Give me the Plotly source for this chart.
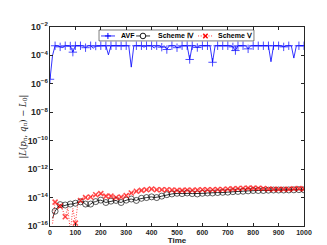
import plotly.graph_objects as go

time = list(range(0, 1001, 10))

avf = [2.1e-6, 1.0e-4, 4.8e-4, 4.8e-4, 4.0e-4, 3.6e-4, 4.8e-4, 4.8e-4, 4.6e-4, 1.7e-4,
       4.8e-4, 4.8e-4, 4.8e-4, 4.7e-4, 3.5e-4, 4.8e-4, 4.8e-4, 3.2e-4, 4.6e-4, 4.8e-4,
       4.8e-4, 4.8e-4, 4.8e-4, 1.1e-4, 4.8e-4, 4.8e-4, 4.8e-4, 4.8e-4, 4.7e-4, 4.8e-4,
       4.8e-4, 4.8e-4, 1.5e-5, 4.8e-4, 4.8e-4, 4.8e-4, 4.8e-4, 3.8e-4, 4.8e-4, 4.8e-4,
       4.8e-4, 3.3e-4, 4.8e-4, 4.8e-4, 3.8e-4, 4.8e-4, 2.6e-4, 4.8e-4, 4.8e-4, 4.8e-4,
       3.5e-4, 4.2e-4, 4.8e-4, 4.8e-4, 4.8e-4, 5.2e-5, 4.8e-4, 4.8e-4, 3.6e-4, 4.8e-4,
       4.8e-4, 4.8e-4, 4.8e-4, 4.8e-4, 3.3e-5, 4.8e-4, 4.8e-4, 4.8e-4, 4.8e-4, 4.8e-4,
       4.8e-4, 4.8e-4, 4.0e-4, 2.2e-4, 4.8e-4, 4.8e-4, 4.8e-4, 4.8e-4, 2.9e-4, 4.8e-4,
       4.8e-4, 4.8e-4, 4.8e-4, 4.8e-4, 4.8e-4, 4.8e-4, 4.8e-4, 3.6e-5, 4.8e-4, 4.8e-4,
       4.8e-4, 4.8e-4, 4.0e-4, 4.8e-4, 4.8e-4, 4.8e-4, 6.5e-5, 4.8e-4, 4.8e-4, 4.8e-4,
       4.8e-4]

scheme4 = [None, 3.5e-16, 1.1e-15, 2.0e-15, 3.2e-15, 2.5e-15, 3.0e-15, 3.2e-15, 3.5e-15, 3.5e-15,
           4.0e-15, 4.5e-15, 5.0e-15, 5.0e-15, 3.5e-15, 2.4e-15, 3.5e-15, 4.7e-15, 5.2e-15, 6.3e-15,
           6.6e-15, 5.2e-15, 4.5e-15, 5.0e-15, 5.6e-15, 5.6e-15, 6.3e-15, 5.0e-15, 4.5e-15, 5.6e-15,
           6.6e-15, 7.4e-15, 7.9e-15, 7.1e-15, 6.3e-15, 7.9e-15, 8.9e-15, 1.0e-14, 1.0e-14, 1.07e-14,
           1.12e-14, 1.0e-14, 1.0e-14, 1.12e-14, 1.26e-14, 1.4e-14, 1.6e-14, 1.7e-14, 1.8e-14, 1.9e-14,
           2.0e-14, 2.0e-14, 1.9e-14, 2.0e-14, 2.1e-14, 2.0e-14, 1.9e-14, 1.9e-14, 1.8e-14, 1.9e-14,
           2.0e-14, 2.0e-14, 2.1e-14, 2.2e-14, 2.1e-14, 2.2e-14, 2.25e-14, 2.2e-14, 2.35e-14, 2.3e-14,
           2.4e-14, 2.5e-14, 2.6e-14, 2.5e-14, 2.7e-14, 2.8e-14, 2.8e-14, 2.9e-14, 2.95e-14, 3.0e-14,
           3.15e-14, 3.15e-14, 3.15e-14, 3.2e-14, 3.15e-14, 3.3e-14, 3.3e-14, 3.2e-14, 3.4e-14, 3.3e-14,
           3.4e-14, 3.3e-14, 3.4e-14, 3.45e-14, 3.45e-14, 3.4e-14, 3.5e-14, 3.5e-14, 3.6e-14, 3.5e-14,
           3.5e-14]

scheme5 = [None, 1.5e-16, 4.8e-15, 3.2e-15, 2.5e-15, 1.3e-15, 4.5e-16, 2.0e-15, 4.0e-17, 1.7e-15,
           1.6e-16, 4.3e-15, 6.3e-15, 1.1e-14, 1.0e-14, 1.0e-14, 1.1e-14, 1.3e-14, 1.6e-14, 1.4e-14,
           1.9e-14, 1.6e-14, 1.26e-14, 1.4e-14, 1.26e-14, 1.1e-14, 1.0e-14, 1.0e-14, 1.1e-14, 1.26e-14,
           1.4e-14, 1.8e-14, 2.1e-14, 2.5e-14, 2.8e-14, 3.0e-14, 3.2e-14, 3.4e-14, 3.5e-14, 3.8e-14,
           4.0e-14, 3.5e-14, 3.6e-14, 3.4e-14, 3.6e-14, 3.3e-14, 3.5e-14, 3.3e-14, 3.4e-14, 3.2e-14,
           3.3e-14, 3.4e-14, 3.2e-14, 3.5e-14, 3.4e-14, 3.5e-14, 3.3e-14, 3.6e-14, 3.4e-14, 3.5e-14,
           3.6e-14, 3.8e-14, 3.5e-14, 3.7e-14, 3.6e-14, 3.8e-14, 3.7e-14, 3.9e-14, 3.7e-14, 3.8e-14,
           4.0e-14, 3.8e-14, 4.1e-14, 3.9e-14, 4.3e-14, 4.2e-14, 4.5e-14, 4.4e-14, 4.6e-14, 4.5e-14,
           4.6e-14, 4.3e-14, 4.5e-14, 4.2e-14, 4.4e-14, 4.1e-14, 4.0e-14, 4.2e-14, 3.9e-14, 4.0e-14,
           3.8e-14, 4.0e-14, 3.9e-14, 4.1e-14, 3.8e-14, 4.0e-14, 4.2e-14, 4.0e-14, 4.3e-14, 4.1e-14,
           4.1e-14]

names = ["AVF", "Scheme \u2163", "Scheme \u2164"]
y_title = "|<i>L</i>(<i>p<sub>n</sub></i>, <i>q<sub>n</sub></i>) \u2212 <i>L</i><sub>0</sub>|"
x_title = "Time"

FONT = "Liberation Sans, Arial, sans-serif"
AX = "#262626"
BLUE, BLACK, RED = "#0000FF", "#000000", "#FF0000"
DOT = "1px,1.6px"


def sizes(n, s, extra=(), skip=()):
    return [s if ((i % 2 == 0 or i in extra) and i not in skip) else 0 for i in range(n)]


fig = go.Figure()

styles = [
    dict(y=avf, color=BLUE, dash="solid", symbol="cross-thin", size=6, mw=1.0,
         extra=(9, 55, 73), skip=(32, 96)),
    dict(y=scheme4, color=BLACK, dash="solid", symbol="circle-open", size=6, mw=0.9,
         extra=(), skip=()),
    dict(y=scheme5, color=RED, dash=DOT, symbol="x-thin", size=5, mw=1.5,
         extra=(), skip=()),
]

for name, st in zip(names, styles):
    fig.add_trace(go.Scatter(
        x=time, y=st["y"], mode="lines+markers", name=name, showlegend=False,
        line=dict(color=st["color"], width=0.8, dash=st["dash"]),
        marker=dict(symbol=st["symbol"],
                    size=sizes(len(time), st["size"], st["extra"], st["skip"]),
                    color=st["color"], line=dict(color=st["color"], width=st["mw"])),
        connectgaps=False,
    ))

axis_common = dict(
    showgrid=False, zeroline=False, showline=True, linecolor=AX, linewidth=0.6,
    mirror="ticks", ticks="inside", ticklen=3, tickwidth=0.6, tickcolor=AX,
    tickfont=dict(family=FONT, size=7, color=AX, weight="bold"), automargin=False,
)

fig.update_xaxes(range=[0, 1000], tick0=0, dtick=100,
                 title=dict(text="<b>" + x_title + "</b>", font=dict(family=FONT, size=8, color=AX),
                            standoff=1),
                 **axis_common)
fig.update_yaxes(type="log", range=[-16, -2], tick0=0, dtick=2, exponentformat="power",
                 **axis_common)

# ---- manual legend (paper coordinates of the plot area) ----
shapes = [dict(type="rect", xref="paper", yref="paper", x0=0.193, x1=0.803, y0=0.930, y1=0.985,
               line=dict(color=AX, width=0.6), fillcolor="white", layer="above")]
leg_y = 0.955
samples = [(0.201, 0.256, BLUE, "solid"),
           (0.339, 0.394, BLACK, "solid"),
           (0.583, 0.642, RED, DOT)]
for x0, x1, col, dash in samples:
    shapes.append(dict(type="line", xref="paper", yref="paper", x0=x0, x1=x1, y0=leg_y, y1=leg_y,
                       line=dict(color=col, width=0.8, dash=dash), layer="above"))


def pix_line(xc, dx0, dy0, dx1, dy1, col, w):
    return dict(type="line", xref="paper", yref="paper", xsizemode="pixel", ysizemode="pixel",
                xanchor=xc, yanchor=leg_y, x0=dx0, x1=dx1, y0=dy0, y1=dy1,
                line=dict(color=col, width=w), layer="above")


shapes.append(pix_line(0.228, -3, 0, 3, 0, BLUE, 1.0))
shapes.append(pix_line(0.228, 0, -3, 0, 3, BLUE, 1.0))
shapes.append(dict(type="circle", xref="paper", yref="paper", xsizemode="pixel", ysizemode="pixel",
                   xanchor=0.366, yanchor=leg_y, x0=-2.8, x1=2.8, y0=-2.8, y1=2.8,
                   line=dict(color=BLACK, width=0.9), fillcolor="white", layer="above"))
shapes.append(pix_line(0.612, -2.2, -2.2, 2.2, 2.2, RED, 1.4))
shapes.append(pix_line(0.612, -2.2, 2.2, 2.2, -2.2, RED, 1.4))

annotations = []
for txt, xt in zip(names, [0.272, 0.416, 0.652]):
    annotations.append(dict(text="<b>" + txt + "</b>", xref="paper", yref="paper", x=xt, y=leg_y,
                            xanchor="left", yanchor="middle", showarrow=False,
                            font=dict(family=FONT, size=7, color="#000000")))
annotations.append(dict(text=y_title, xref="paper", yref="paper", x=-0.106, y=0.5,
                        xanchor="center", yanchor="middle", textangle=-90, showarrow=False,
                        font=dict(family="DejaVu Serif, serif", size=8.5, color=AX)))

fig.update_layout(
    width=327, height=245,
    margin=dict(l=42, r=31, t=19, b=27),
    paper_bgcolor="white", plot_bgcolor="white",
    font=dict(family=FONT, size=7, color=AX),
    showlegend=False,
    shapes=shapes, annotations=annotations,
)

fig.write_html("out.html")
